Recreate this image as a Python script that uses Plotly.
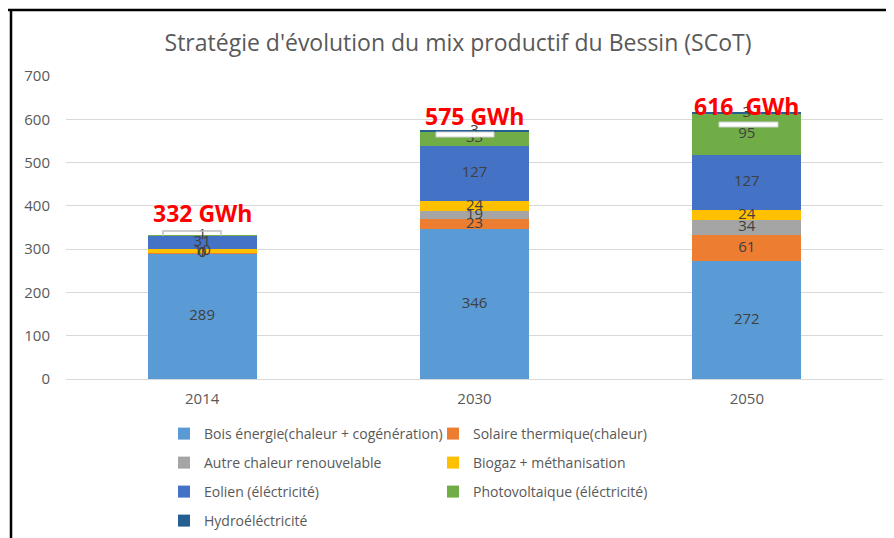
"""Stacked bars: mix productif du Bessin (SCoT)"""

import plotly.graph_objects as go

# Data
YEARS = ["2014", "2030", "2050"]
SERIES = [
    "Bois énergie(chaleur + cogénération)",
    "Solaire thermique(chaleur)",
    "Autre chaleur renouvelable",
    "Biogaz + méthanisation",
    "Eolien (éléctricité)",
    "Photovoltaique (éléctricité)",
    "Hydroéléctricité",
]
BOIS = [289, 346, 272]
SOLAIRE = [1, 23, 61]
AUTRE = [0, 19, 34]
BIOGAZ = [10, 24, 24]
EOLIEN = [31, 127, 127]
PV = [1, 33, 95]
HYDRO = [0, 3, 3]
TOTAL_LABELS = ["332 GWh", "575 GWh", "616  GWh"]

COLORS = ["#5B9BD5", "#ED7D31", "#A5A5A5", "#FFC000", "#4472C4", "#70AD47", "#255E91"]
FONT = "Open Sans"
GREY_TXT = "#595959"

# the page body adds 8px around the figure
OFF = 8
W, H = 894 - OFF, 538 - OFF
# plot area in screen pixels (for decorations outside the data)
PX_L, PX_R, PX_T, PX_B = 66, 883, 76, 379


def px_x(p):
    return (p - PX_L) / (PX_R - PX_L)


def px_y(p):
    return (PX_B - p) / (PX_B - PX_T)


values = [BOIS, SOLAIRE, AUTRE, BIOGAZ, EOLIEN, PV, HYDRO]

fig = go.Figure()

# legend rows: two entries per row
legend_of = ["legend", "legend", "legend2", "legend2", "legend3", "legend3", "legend4"]

for name, vals, col, leg in zip(SERIES, values, COLORS, legend_of):
    fig.add_trace(go.Bar(
        x=YEARS, y=vals, name=name, marker_color=col,
        marker_line_width=0, legend=leg,
    ))

# data labels at the middle of each segment
lab_x, lab_y, lab_t = [], [], []
base = [0, 0, 0]
for vals in values:
    for i, v in enumerate(vals):
        if v > 0 or vals is AUTRE:
            lab_x.append(YEARS[i])
            lab_y.append(base[i] + v / 2)
            lab_t.append(str(v))
        base[i] += v
fig.add_trace(go.Scatter(
    x=lab_x, y=lab_y, text=lab_t, mode="text", showlegend=False,
    textfont=dict(family=FONT, size=15, color="#404040"), hoverinfo="skip",
))

# totals (x given as category index)
totals = base
shifts = [22, 14, 6]
for i, (tot, lab, sh) in enumerate(zip(totals, TOTAL_LABELS, shifts)):
    fig.add_annotation(
        x=i, y=tot, text="<b>%s</b>" % lab, showarrow=False,
        yanchor="middle", yshift=sh,
        font=dict(family=FONT, size=23, color="#FF0000"),
    )

fig.update_layout(
    width=W, height=H,
    margin=dict(l=PX_L - OFF, r=894 - PX_R, t=PX_T - OFF, b=538 - PX_B,
                autoexpand=False),
    paper_bgcolor="white", plot_bgcolor="white",
    barmode="stack", bargap=0.6,
    font=dict(family=FONT, color=GREY_TXT),
    title=dict(
        text="Stratégie d'évolution du mix productif du Bessin (SCoT)",
        x=px_x(458), xref="paper", xanchor="center",
        y=1 - (43 - OFF) / H, yanchor="middle",
        font=dict(family=FONT, size=23, color=GREY_TXT),
    ),
)

fig.update_yaxes(
    range=[0, 700], dtick=100, showgrid=True, gridcolor="#D9D9D9", gridwidth=1,
    zeroline=False, showline=False,
    ticks="outside", ticklen=12, tickcolor="rgba(0,0,0,0)",
    tickfont=dict(family=FONT, size=15, color=GREY_TXT),
)
fig.update_xaxes(
    type="category", range=[-0.5, 2.5],
    showline=True, linecolor="#D9D9D9", linewidth=1,
    ticks="outside", ticklen=6, tickcolor="rgba(0,0,0,0)",
    tickfont=dict(family=FONT, size=15, color=GREY_TXT),
)

leg_common = dict(
    orientation="h", xanchor="left", yanchor="middle", x=px_x(164),
    font=dict(family=FONT, size=14, color=GREY_TXT),
    entrywidth=224, entrywidthmode="pixels", itemwidth=30,
    traceorder="normal", bgcolor="rgba(0,0,0,0)",
)
for key, py in zip(["legend", "legend2", "legend3", "legend4"], [434, 463, 492, 521]):
    fig.update_layout({key: dict(leg_common, y=px_y(py))})

# frame of the picture (top and left edges)
fig.add_shape(type="line", xref="paper", yref="paper",
              x0=px_x(5), x1=px_x(894), y0=px_y(10), y1=px_y(10),
              line=dict(color="black", width=2.5))
fig.add_shape(type="line", xref="paper", yref="paper",
              x0=px_x(11), x1=px_x(11), y0=px_y(10), y1=px_y(540),
              line=dict(color="black", width=2.5))

# small masking boxes left over on the bar tops
fig.add_shape(type="path", xref="paper", yref="paper",
              path="M %f %f L %f %f L %f %f L %f %f" % (
                  px_x(163), px_y(236), px_x(163), px_y(231),
                  px_x(221), px_y(231), px_x(221), px_y(236)),
              line=dict(color="#BFBFBF", width=1.5))
for x0, x1, y0, y1 in [(436, 494, 132, 137), (719, 778, 122, 127)]:
    fig.add_shape(type="rect", xref="paper", yref="paper",
                  x0=px_x(x0), x1=px_x(x1), y0=px_y(y1), y1=px_y(y0),
                  fillcolor="white", line=dict(color="#D0D0D0", width=1))

fig.write_html("out.html")
